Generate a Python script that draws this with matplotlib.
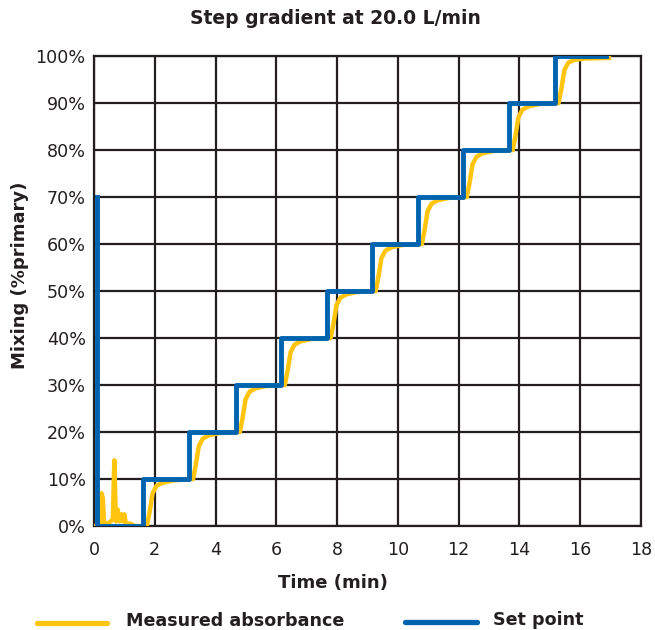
import matplotlib
matplotlib.use("Agg")
import matplotlib.pyplot as plt
from matplotlib.lines import Line2D

title = "Step gradient at 20.0 L/min"
x_label = "Time (min)"
y_label = "Mixing (%primary)"
legend_labels = ["Measured absorbance", "Set point"]

x_ticks = [0, 2, 4, 6, 8, 10, 12, 14, 16, 18]
y_ticks = [0, 10, 20, 30, 40, 50, 60, 70, 80, 90, 100]
y_tick_labels = ["0%", "10%", "20%", "30%", "40%", "50%", "60%", "70%", "80%", "90%", "100%"]

# Set point (step changes)
set_time = [0.10, 0.10, 1.61, 3.13, 4.67, 6.15, 7.66, 9.14, 10.66, 12.14, 13.65, 15.16, 16.85]
set_value = [70, 0, 10, 20, 30, 40, 50, 60, 70, 80, 90, 100, 100]

# Measured absorbance
meas_time = [
    0.00, 0.12, 0.22, 0.25, 0.29, 0.33, 0.45, 0.55, 0.62, 0.67, 0.72, 0.78, 0.84, 0.90, 0.95, 1.00, 1.05, 1.20, 1.35, 1.65,
    1.74, 1.83, 1.93, 2.06, 2.26, 2.60, 3.10,
    3.26, 3.35, 3.45, 3.58, 3.78, 4.13, 4.70,
    4.80, 4.89, 4.99, 5.12, 5.32, 5.67, 6.20,
    6.28, 6.37, 6.47, 6.60, 6.80, 7.15, 7.70,
    7.79, 7.88, 7.98, 8.11, 8.31, 8.66, 9.20,
    9.27, 9.36, 9.46, 9.59, 9.79, 10.14, 10.70,
    10.79, 10.88, 10.98, 11.11, 11.31, 11.66, 12.20,
    12.27, 12.36, 12.46, 12.59, 12.79, 13.14, 13.70,
    13.78, 13.87, 13.97, 14.10, 14.30, 14.65, 15.20,
    15.29, 15.38, 15.48, 15.61, 15.81, 16.16, 16.95,
]
meas_value = [
    0.0, 0.0, 0.5, 7.0, 6.0, 0.8, 0.5, 1.0, 1.5, 14.0, 1.0, 3.5, 1.0, 2.5, 1.0, 2.5, 0.5, 0.5, 0.0, 0.0,
    0.0, 3.0, 7.0, 8.6, 9.2, 9.7, 10.0,
    10.0, 13.0, 17.0, 18.6, 19.3, 19.8, 20.0,
    20.0, 23.0, 27.0, 28.6, 29.3, 29.8, 30.0,
    30.0, 33.0, 37.0, 38.6, 39.3, 39.8, 40.0,
    40.0, 43.0, 47.0, 48.6, 49.3, 49.8, 50.0,
    50.0, 53.0, 57.0, 58.6, 59.3, 59.8, 60.0,
    60.0, 63.0, 67.0, 68.6, 69.3, 69.8, 70.0,
    70.0, 73.0, 77.0, 78.6, 79.3, 79.8, 80.0,
    80.0, 83.0, 87.0, 88.6, 89.3, 89.8, 90.0,
    90.0, 93.0, 97.0, 98.6, 99.2, 99.5, 99.6,
]

YELLOW = "#FFC40D"
BLUE = "#0063AF"
DARK = "#231F20"

plt.rcParams['font.family'] = ['DejaVu Sans']

fig = plt.figure(figsize=(6.55, 6.30), dpi=100)
ax = fig.add_axes([0.1435, 0.165, 0.8350, 0.746])

ax.plot(meas_time, meas_value, color=YELLOW, lw=3.2, solid_joinstyle='round', zorder=3)
ax.plot(set_time, set_value, color=BLUE, lw=3.5, drawstyle='steps-post', zorder=4)

ax.set_xlim(0, 18)
ax.set_ylim(0, 100)
ax.set_xticks(x_ticks)
ax.set_yticks(y_ticks)
ax.set_yticklabels(y_tick_labels)
ax.tick_params(axis='both', length=0, labelsize=12.6, colors=DARK)
ax.tick_params(axis='y', pad=6)
ax.tick_params(axis='x', pad=11)
ax.grid(True, color=DARK, lw=1.6, zorder=1)
ax.set_axisbelow(True)
for s in ax.spines.values():
    s.set_color(DARK)
    s.set_linewidth(1.6)

ax.set_xlabel(x_label, fontsize=13, fontweight='bold', color=DARK)
ax.xaxis.set_label_coords((333 - 94) / 547, -(583 - 526) / 470)
ax.xaxis.label.set_va('center')
ax.set_ylabel(y_label, fontsize=13, fontweight='bold', color=DARK)
ax.yaxis.set_label_coords(-(94 - 20) / 547, (526 - 275) / 470)
ax.yaxis.label.set_va('center')

fig.text(335 / 655, 1 - 18 / 630, title, ha='center', va='center', fontsize=13.5, fontweight='bold', color=DARK)

# Legend drawn at the bottom
fig.add_artist(Line2D([37/655, 107/655], [1-623/630, 1-623/630], color=YELLOW, lw=3.8, solid_capstyle='round'))
fig.text(126/655, 1-621/630, legend_labels[0], ha='left', va='center', fontsize=12.6, fontweight='bold', color=DARK)
fig.add_artist(Line2D([405/655, 477/655], [1-622/630, 1-622/630], color=BLUE, lw=3.8, solid_capstyle='round'))
fig.text(493/655, 1-620/630, legend_labels[1], ha='left', va='center', fontsize=12.6, fontweight='bold', color=DARK)

fig.savefig("out.png", dpi=100)
